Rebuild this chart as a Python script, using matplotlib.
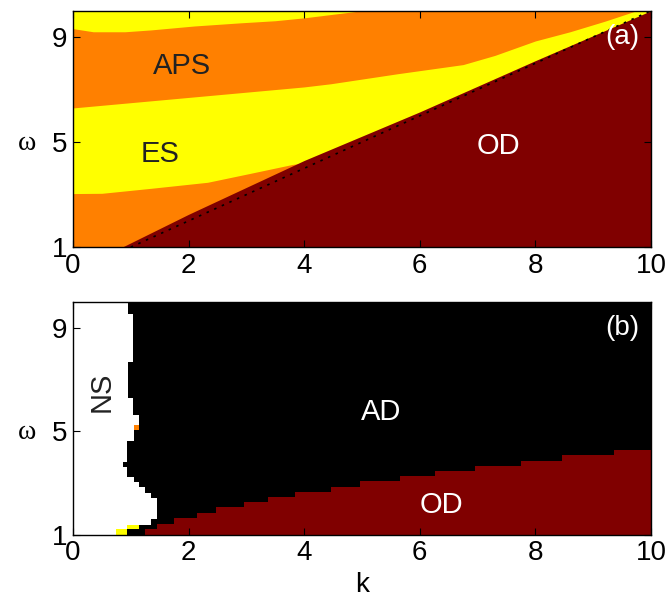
import numpy as np
import matplotlib
matplotlib.use("Agg")
import matplotlib.pyplot as plt

plt.rcParams['font.family'] = ['Liberation Sans', 'DejaVu Sans']

ORANGE = '#FF8000'
YELLOW = '#FFFF00'
DARKRED = '#800000'

# ---- panel (a) boundaries (k, omega) ----
es_lo_k = [0, 0.5, 1.35, 2.33, 3.07, 3.8, 4.0]
es_lo_w = [3.04, 3.05, 3.24, 3.47, 3.81, 4.15, 4.2]
es_up_k = [0, 1, 2, 3, 4, 4.46, 5.61, 6.75, 7.3, 8.0, 8.6, 9.2, 9.75]
es_up_w = [6.3, 6.5, 6.7, 6.9, 7.1, 7.22, 7.6, 7.95, 8.3, 8.85, 9.2, 9.6, 10]
aps_k = [0, 0.35, 0.9, 1.35, 2.1, 2.9, 3.5, 4, 4.7, 5]
aps_w = [9.32, 9.2, 9.2, 9.27, 9.42, 9.54, 9.62, 9.73, 9.92, 10]
od_a_k = [0.85, 2, 4, 6, 8, 10]
od_a_w = [1, 2.25, 4.3, 6.15, 8.1, 10]
diag_k = [1, 10]
diag_w = [1, 10]

# ---- panel (b) boundaries ----
ns_w = [1.0, 1.22, 1.39, 1.60, 2.42, 2.62, 2.84, 3.03, 3.22, 3.63, 3.82,
        4.63, 5.26, 5.65, 6.3, 7.69, 9.54, 10.0]
ns_k = [0.75, 0.94, 1.35, 1.45, 1.35, 1.25, 1.15, 1.05, 0.94, 0.86, 0.94,
        1.05, 1.15, 1.04, 0.96, 1.04, 0.96, 0.96]
od_b_k = [1.25, 1.46, 1.75, 2.15, 2.47, 2.96, 3.37, 3.85, 4.47, 4.97, 5.66,
          6.26, 6.96, 7.75, 8.46, 9.36, 10.0]
od_b_w = [1.22, 1.44, 1.65, 1.86, 2.06, 2.27, 2.47, 2.67, 2.87, 3.08, 3.28,
          3.47, 3.67, 3.87, 4.08, 4.28, 4.28]
# isolated cells: (k0, width, w0, height)
yellow_cells = [(0.75, 0.19, 1.0, 0.22), (0.94, 0.21, 1.22, 0.17)]
orange_cells = [(1.05, 0.10, 5.05, 0.21)]

xticks = [0, 2, 4, 6, 8, 10]
yticks = [1, 5, 9]

fig = plt.figure(figsize=(6.69, 5.97), dpi=100)
ax1 = fig.add_axes([0.109, 0.586, 0.864, 0.396])
ax2 = fig.add_axes([0.109, 0.104, 0.864, 0.39])

# panel (a)
ax1.set_facecolor(YELLOW)
ax1.fill_between(es_lo_k, 1, es_lo_w, color=ORANGE, lw=0)
ax1.fill_between(es_up_k, es_up_w, 10, color=ORANGE, lw=0)
ax1.fill_between(aps_k, aps_w, 10, color=YELLOW, lw=0)
ax1.fill_between(od_a_k, 1, od_a_w, color=DARKRED, lw=0)
ax1.plot(diag_k, diag_w, color='black', lw=1.2, linestyle=(0, (1.5, 3.5)))

ax1.text(1.88, 7.9, 'APS', fontsize=21, color='#222222', ha='center', va='center')
ax1.text(1.5, 4.56, 'ES', fontsize=21, color='#222222', ha='center', va='center')
ax1.text(7.37, 4.87, 'OD', fontsize=21, color='white', ha='center', va='center')
ax1.text(9.5, 9.0, '(a)', fontsize=20, color='white', ha='center', va='center')

# panel (b)
ax2.set_facecolor('black')
ax2.fill_betweenx(ns_w, 0, ns_k, step='post', color='white', lw=0)
ax2.fill_between(od_b_k, 1, od_b_w, step='post', color=DARKRED, lw=0)
for k0, dk, w0, dw in yellow_cells:
    ax2.broken_barh([(k0, dk)], (w0, dw), color=YELLOW, lw=0)
for k0, dk, w0, dw in orange_cells:
    ax2.broken_barh([(k0, dk)], (w0, dw), color=ORANGE, lw=0)

ax2.text(5.34, 5.75, 'AD', fontsize=21, color='white', ha='center', va='center')
ax2.text(6.37, 2.16, 'OD', fontsize=21, color='white', ha='center', va='center')
ax2.text(0.5, 6.55, 'NS', fontsize=21, color='#222222', ha='center', va='center',
         rotation=90)
ax2.text(9.5, 9.0, '(b)', fontsize=20, color='white', ha='center', va='center')
ax2.set_xlabel('k', fontsize=20, labelpad=4)

for ax in (ax1, ax2):
    ax.set_xlim(0, 10)
    ax.set_ylim(1, 10)
    ax.set_xticks(xticks)
    ax.set_yticks(yticks)
    ax.tick_params(direction='in', top=True, right=True, length=5,
                   labelsize=20, pad=4)
    ax.set_ylabel('ω', fontsize=20, rotation=0, family='Liberation Serif',
                  ha='center', va='center')
    ax.yaxis.set_label_coords(-0.08, 0.44)
    for s in ax.spines.values():
        s.set_linewidth(1.0)

fig.savefig('out.png', dpi=100)
